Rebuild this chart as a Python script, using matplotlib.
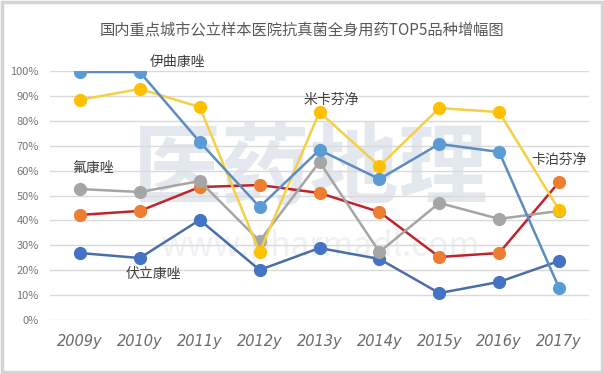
import matplotlib.pyplot as plt
from matplotlib.ticker import PercentFormatter

plt.rcParams['font.family'] = ['Noto Sans CJK SC', 'DejaVu Sans']

years = ['2009y', '2010y', '2011y', '2012y', '2013y', '2014y', '2015y', '2016y', '2017y']

# growth rates
itraconazole = [0.996, 0.996, 0.715, 0.454, 0.683, 0.566, 0.707, 0.675, 0.129]
micafungin = [0.884, 0.928, 0.855, 0.273, 0.835, 0.618, 0.851, 0.835, 0.442]
fluconazole = [0.526, 0.514, 0.558, 0.317, 0.635, 0.273, 0.470, 0.406, 0.438]
caspofungin = [0.422, 0.438, 0.534, 0.542, 0.510, 0.434, 0.253, 0.269, 0.554]
voriconazole = [0.269, 0.249, 0.402, 0.201, 0.289, 0.245, 0.108, 0.153, 0.237]

names = ['伊曲康唑', '米卡芬净', '氟康唑', '卡泊芬净', '伏立康唑']

fig = plt.figure(figsize=(6.04, 3.74), dpi=100)
fig.patch.set_facecolor('white')
# light frame round the picture
fig.add_artist(plt.Rectangle((0.004, 0.005), 0.992, 0.99, transform=fig.transFigure,
                             fill=False, edgecolor='#d4d4d4', linewidth=2.5))

ax = fig.add_axes([50 / 604, 54 / 374, 539 / 604, 249 / 374])
x = range(len(years))

# faint watermark
ax.text(3.85, 0.60, '医药地理', fontsize=64, color='#dde3ea', ha='center', va='center',
        fontweight='bold', zorder=0, alpha=0.8)
ax.text(4.0, 0.295, 'www.pharmadl.com', fontsize=24, color='#eef0f3', ha='center',
        va='center', zorder=0)

series = [
    (voriconazole, '#4a6fa8', '#4472c4'),
    (caspofungin, '#c0232b', '#ed7d31'),
    (fluconazole, '#a5a5a5', '#a5a5a5'),
    (micafungin, '#f5cf45', '#ffc000'),
    (itraconazole, '#5b8dc0', '#5b9bd5'),
]
for vals, lc, mc in series:
    ax.plot(x, vals, color=lc, linewidth=1.8, marker='o', markersize=8.5,
            markerfacecolor=mc, markeredgecolor=mc, zorder=3)

ax.set_xlim(-0.5, 8.5)
ax.set_ylim(0, 1.0)
ax.set_yticks([i / 10 for i in range(11)])
ax.yaxis.set_major_formatter(PercentFormatter(1.0, decimals=0))
ax.grid(axis='y', color='#d9d9d9', linewidth=1)
ax.set_axisbelow(True)
for s in ax.spines.values():
    s.set_visible(False)
ax.tick_params(length=0)
ax.tick_params(axis='y', labelsize=8, labelcolor='#767676', pad=8)
ax.set_xticks(list(x))
ax.set_xticklabels(years, fontsize=10.5, color='#6a6a6a', style='italic', family='DejaVu Sans')
ax.tick_params(axis='x', pad=10)

# series names
lab_kw = dict(fontsize=10, color='#404040', ha='center', va='center', clip_on=False, zorder=5)
ax.text(1.63, 1.035, names[0], **lab_kw)
ax.text(4.2, 0.885, names[1], **lab_kw)
ax.text(0.22, 0.61, names[2], **lab_kw)
ax.text(8.0, 0.645, names[3], **lab_kw)
ax.text(1.22, 0.185, names[4], **lab_kw)

fig.text(0.5, 0.92, '国内重点城市公立样本医院抗真菌全身用药TOP5品种增幅图',
         ha='center', va='center', fontsize=11, color='#595959')

fig.savefig('out.png', dpi=100)
